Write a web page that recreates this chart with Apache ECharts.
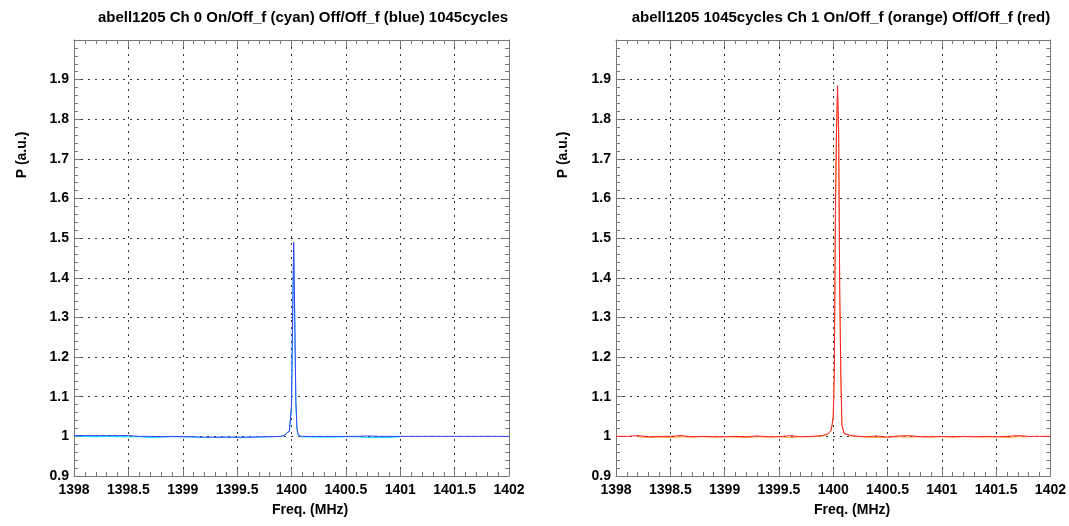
<!DOCTYPE html>
<html>
<head>
<meta charset="utf-8">
<script src="https://cdn.jsdelivr.net/npm/echarts@6/dist/echarts.min.js"></script>
<style>
html,body{margin:0;padding:0;background:#fff;}
#chart{width:1069px;height:526px;}
</style>
</head>
<body>
<div id="chart"></div>
<script>
// ---- data ----
var titles = [
  "abell1205 Ch 0 On/Off_f (cyan) Off/Off_f (blue) 1045cycles",
  "abell1205 1045cycles Ch 1 On/Off_f (orange) Off/Off_f (red)"
];
var xName = "Freq. (MHz)";
var yName = "P (a.u.)";

var freq0 = [1398.0,1398.1,1398.2,1398.3,1398.4,1398.5,1398.6,1398.7,1398.8,1398.9,
             1399.0,1399.1,1399.2,1399.3,1399.4,1399.5,1399.6,1399.7,1399.8,1399.9,
             1399.94,1399.96,1399.98,1399.99,1400.0,1400.01,1400.02,1400.03,1400.04,1400.05,
             1400.06,1400.08,1400.1,1400.2,1400.3,1400.4,1400.5,1400.6,1400.7,1400.8,
             1400.9,1401.0,1401.5,1402.0];
var ch0Off = [1.002,1.002,1.002,1.002,1.002,1.002,1.000,1.000,0.999,1.000,
              0.999,0.999,0.998,0.998,0.998,0.998,0.998,0.999,0.999,1.000,
              1.003,1.010,1.012,1.012,1.08,1.30,1.49,1.30,1.09,1.02,
              1.005,1.001,1.000,1.000,1.000,1.000,1.000,1.000,1.001,1.000,
              1.000,1.000,1.000,1.000];
var ch0On  = [1.001,1.000,0.999,1.000,0.999,0.999,0.999,0.997,0.998,0.999,
              0.999,0.998,0.997,0.997,0.998,0.997,0.998,0.998,0.999,1.000,
              1.003,1.009,1.012,1.012,1.07,1.28,1.47,1.29,1.08,1.02,
              1.004,1.000,0.999,0.998,0.998,0.998,0.999,0.999,0.997,0.997,
              0.997,0.999,null,null];

var freq1 = [1398.0,1398.1,1398.2,1398.3,1398.4,1398.5,1398.6,1398.7,1398.8,1398.9,
             1399.0,1399.1,1399.2,1399.3,1399.4,1399.5,1399.6,1399.7,1399.8,1399.9,
             1399.95,1399.98,1399.99,1400.0,1400.01,1400.02,1400.03,1400.04,1400.05,1400.06,
             1400.07,1400.08,1400.1,1400.15,1400.2,1400.3,1400.4,1400.5,1400.6,1400.7,
             1400.8,1400.9,1401.0,1401.1,1401.2,1401.3,1401.4,1401.5,1401.6,1401.7,
             1401.8,1401.9,1402.0];
var ch1Off = [1.000,1.000,1.002,0.999,1.000,1.000,1.002,0.999,1.000,0.999,
              0.999,1.000,0.999,1.001,0.999,0.999,1.002,0.999,1.000,1.002,
              1.006,1.015,1.030,1.050,1.160,1.560,1.775,1.885,1.775,1.370,
              1.160,1.030,1.008,1.003,1.001,0.999,1.001,0.998,1.001,1.002,
              0.999,0.999,1.000,0.999,1.000,0.999,1.000,0.999,1.000,1.002,
              1.000,1.000,1.000];
var ch1On  = [null,null,0.999,0.997,0.998,0.997,0.999,0.998,0.999,0.998,
              0.999,0.998,0.997,0.999,0.998,0.999,0.997,0.999,0.999,1.001,
              1.005,1.014,1.028,1.048,1.150,1.540,1.760,1.860,1.760,1.360,
              1.150,1.028,1.007,1.002,1.000,0.998,0.997,0.998,0.999,0.998,
              0.999,0.998,0.999,0.998,0.999,0.999,0.998,0.999,0.997,0.999,
              0.999,null,null];

var xTicks = [1398,1398.5,1399,1399.5,1400,1400.5,1401,1401.5,1402];
var yTicks = [0.9,1,1.1,1.2,1.3,1.4,1.5,1.6,1.7,1.8,1.9,2.0];

function pairs(xs, ys){ return xs.map(function(x,i){ return [x, ys[i]]; }); }

// ---- layout ----
var font = "Liberation Sans, Arial, Helvetica, sans-serif";
var grids = [
  {left:74, top:40, width:435, height:436},
  {left:616, top:40, width:435, height:436}
];
var gridStyle = {type:[2,5], color:'#333', width:1};
var frameColor = '#777';

var xAxes = [], yAxes = [];
[0,1].forEach(function(g){
  xAxes.push({
    type:'value', gridIndex:g, position:'bottom',
    min:xTicks[0], max:xTicks[xTicks.length-1], interval:0.5,
    axisLine:{show:true, lineStyle:{color:frameColor, width:1}},
    axisTick:{show:true, inside:true, length:7, lineStyle:{color:frameColor}},
    minorTick:{show:true, splitNumber:5, length:4, lineStyle:{color:frameColor}},
    axisLabel:{color:'#000', fontFamily:font, fontWeight:'bold', fontSize:14, margin:7,
      formatter:function(v){ return String(+v.toFixed(1)); }},
    splitLine:{show:true, lineStyle:gridStyle}
  });
  xAxes.push({
    type:'value', gridIndex:g, position:'top',
    min:xTicks[0], max:xTicks[xTicks.length-1], interval:0.5,
    axisLine:{show:true, lineStyle:{color:frameColor, width:1}},
    axisTick:{show:true, inside:true, length:7, lineStyle:{color:frameColor}},
    minorTick:{show:true, splitNumber:5, length:4, lineStyle:{color:frameColor}},
    axisLabel:{show:false}, splitLine:{show:false}
  });
  yAxes.push({
    type:'value', gridIndex:g, position:'left',
    min:yTicks[0], max:yTicks[yTicks.length-1], interval:0.1,
    axisLine:{show:true, lineStyle:{color:frameColor, width:1}},
    axisTick:{show:true, inside:true, length:7, lineStyle:{color:frameColor}},
    minorTick:{show:true, splitNumber:5, length:4, lineStyle:{color:frameColor}},
    axisLabel:{color:'#000', fontFamily:font, fontWeight:'bold', fontSize:14, margin:5,
      showMaxLabel:false,
      formatter:function(v){ return String(+v.toFixed(1)); }},
    splitLine:{show:true, lineStyle:gridStyle}
  });
  yAxes.push({
    type:'value', gridIndex:g, position:'right',
    min:yTicks[0], max:yTicks[yTicks.length-1], interval:0.1,
    axisLine:{show:true, lineStyle:{color:frameColor, width:1}},
    axisTick:{show:true, inside:true, length:7, lineStyle:{color:frameColor}},
    minorTick:{show:true, splitNumber:5, length:4, lineStyle:{color:frameColor}},
    axisLabel:{show:false}, splitLine:{show:false}
  });
});

function line(name, xi, yi, data, color, z){
  return {name:name, type:'line', xAxisIndex:xi, yAxisIndex:yi, data:data,
    showSymbol:false, symbol:'none', connectNulls:false, animation:false, z:z,
    lineStyle:{color:color, width:1}, itemStyle:{color:color}};
}

var titleStyle = {fontFamily:font, fontWeight:'bold', fontSize:15, color:'#000'};
var option = {
  backgroundColor:'#fff',
  animation:false,
  title:[
    {text:titles[0], left:298, top:5, textAlign:'center', textStyle:titleStyle},
    {text:titles[1], left:836, top:5, textAlign:'center', textStyle:titleStyle}
  ],
  grid:grids,
  xAxis:xAxes,
  yAxis:yAxes,
  graphic:[
    {type:'text', left:272, top:503, style:{text:xName, font:'bold 14px '+font, fill:'#000'}},
    {type:'text', left:814, top:503, style:{text:xName, font:'bold 14px '+font, fill:'#000'}},
    {type:'text', x:22, y:155, rotation:Math.PI/2, style:{text:yName, font:'bold 14px '+font, fill:'#000', align:'center', verticalAlign:'middle'}},
    {type:'text', x:563, y:155, rotation:Math.PI/2, style:{text:yName, font:'bold 14px '+font, fill:'#000', align:'center', verticalAlign:'middle'}}
  ],
  series:[
    line('Ch0 On/Off_f', 0, 0, pairs(freq0, ch0On), '#00e5ff', 2),
    line('Ch0 Off/Off_f', 0, 0, pairs(freq0, ch0Off), '#3c40f5', 3),
    line('Ch1 On/Off_f', 2, 2, pairs(freq1, ch1On), '#ffa020', 2),
    line('Ch1 Off/Off_f', 2, 2, pairs(freq1, ch1Off), '#ff2030', 3)
  ]
};
var chart = echarts.init(document.getElementById('chart'), null, {renderer:'canvas'});
chart.setOption(option);
</script>
</body>
</html>
